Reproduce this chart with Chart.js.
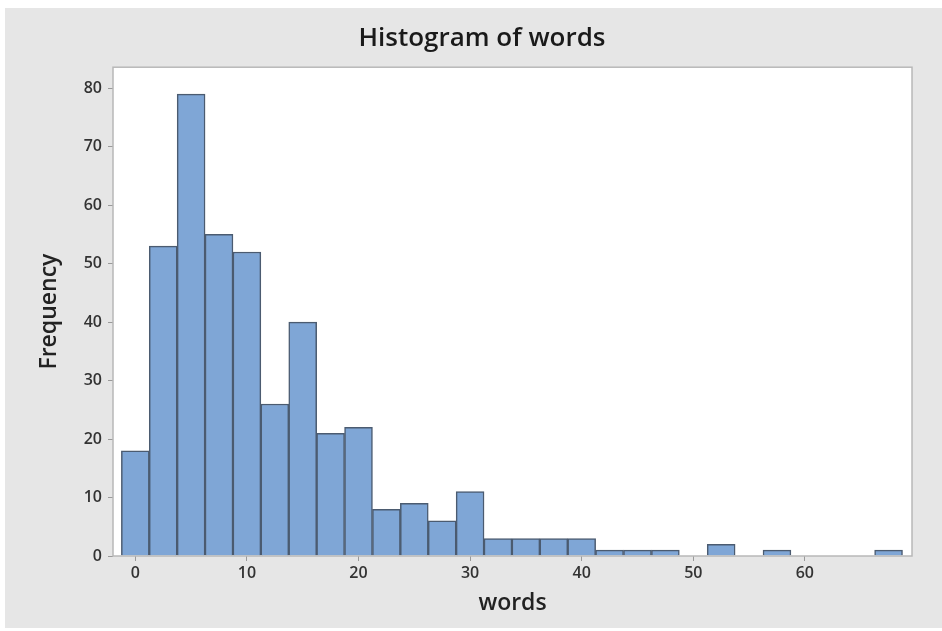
<!DOCTYPE html>
<html>
<head>
<meta charset="utf-8">
<script src="https://cdn.jsdelivr.net/npm/chart.js@4"></script>
<style>
html,body{margin:0;padding:0;background:#ffffff;}
#wrap{width:942px;height:631px;}
</style>
</head>
<body>
<div id="wrap"><canvas id="c" width="942" height="631"></canvas></div>
<script>
// bin midpoints (width 2.5) and counts
const binCenters = [0,2.5,5,7.5,10,12.5,15,17.5,20,22.5,25,27.5,30,32.5,35,37.5,40,42.5,45,47.5,50,52.5,55,57.5,60,62.5,65,67.5];
const frequencies = [18,53,79,55,52,26,40,21,22,8,9,6,11,3,3,3,3,1,1,1,0,2,0,1,0,0,0,1];
const xTickValues = [0,10,20,30,40,50,60];
const yTickValues = [0,10,20,30,40,50,60,70,80];

const points = binCenters.map((x,i)=>({x:x,y:frequencies[i]}));

const bgPlugin = {
  id:'bg',
  beforeDraw(chart){
    const ctx = chart.ctx;
    ctx.save();
    ctx.fillStyle = '#ffffff';
    ctx.fillRect(0,0,chart.width,chart.height);
    ctx.fillStyle = '#e6e6e6';
    ctx.fillRect(5,8,chart.width-5,chart.height-11);
    const a = chart.chartArea;
    ctx.fillStyle = '#ffffff';
    ctx.fillRect(a.left,a.top,a.right-a.left,a.bottom-a.top);
    ctx.restore();
  },
  afterDraw(chart){
    const ctx = chart.ctx, a = chart.chartArea;
    ctx.save();
    ctx.strokeStyle = '#b8b8b8';
    ctx.lineWidth = 1.5;
    ctx.strokeRect(a.left,a.top,a.right-a.left,a.bottom-a.top);
    ctx.restore();
  }
};

new Chart(document.getElementById('c'),{
  type:'bar',
  data:{datasets:[{
    data:points,
    backgroundColor:'#7fa6d6',
    borderColor:'#4b5b70',
    borderWidth:1.5,
    barPercentage:1,
    categoryPercentage:1
  }]},
  options:{
    responsive:false,
    animation:false,
    devicePixelRatio:1,
    layout:{padding:{top:8,left:22,right:0,bottom:0}},
    plugins:{
      legend:{display:false},
      tooltip:{enabled:false},
      title:{
        display:true,
        text:'Histogram of words',
        color:'#1a1a1a',
        font:{family:'"Open Sans"',size:26,weight:'600'},
        padding:{top:15,bottom:13}
      }
    },
    scales:{
      x:{
        type:'linear',
        offset:false,
        min:-2,max:69.6,
        afterBuildTicks(s){ s.ticks = xTickValues.map(v=>({value:v})); },
        afterFit(s){ s.height = 75; },
        border:{display:false},
        grid:{display:true,offset:false,drawOnChartArea:false,drawTicks:true,tickLength:5,tickColor:'#9a9a9a',lineWidth:1},
        ticks:{color:'#333333',padding:3,maxRotation:0,font:{family:'"Open Sans"',size:16,weight:'600'}},
        title:{display:true,text:'words',color:'#222222',font:{family:'"Open Sans"',size:23,weight:'600'},padding:{top:0,bottom:14}}
      },
      y:{
        min:0,max:83.6,
        afterBuildTicks(s){ s.ticks = yTickValues.map(v=>({value:v})); },
        afterFit(s){ s.width = 91; },
        border:{display:false},
        grid:{display:true,drawOnChartArea:false,drawTicks:true,tickLength:5,tickColor:'#9a9a9a',lineWidth:1},
        ticks:{color:'#333333',padding:6,font:{family:'"Open Sans"',size:16,weight:'600'}},
        title:{display:true,text:'Frequency',color:'#222222',font:{family:'"Open Sans"',size:23,weight:'600'},padding:{top:14,bottom:0}}
      },
      yRight:{
        position:'right',
        display:true,
        afterFit(s){ s.width = 30; },
        border:{display:false},
        grid:{display:false,drawOnChartArea:false,drawTicks:false},
        ticks:{display:false}
      }
    }
  },
  plugins:[bgPlugin]
});
</script>
</body>
</html>
